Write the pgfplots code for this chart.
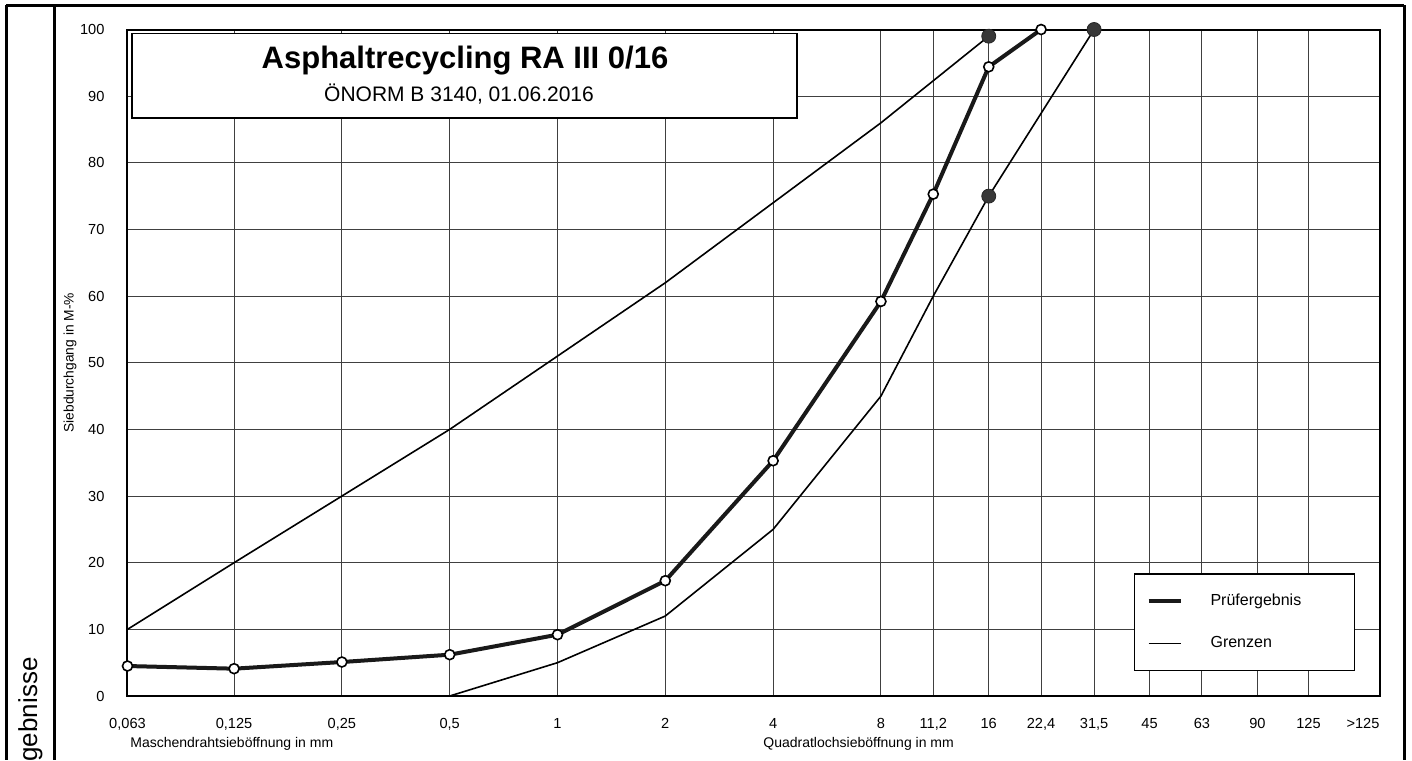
\documentclass[border=0pt]{standalone}
\usepackage{fontspec}
\setmainfont{Liberation Sans}
\usepackage{pgfplots}
\pgfplotsset{compat=1.18}
\begin{document}
\begin{tikzpicture}[x=1pt,y=1pt]
\useasboundingbox (0pt,0pt) rectangle (706pt,-380pt);
% outer frame
\draw[line width=1.5pt] (3pt,-2.5pt) -- (702pt,-2.5pt);
\draw[line width=1.5pt] (3pt,-2.5pt) -- (3pt,-380pt);
\draw[line width=1.5pt] (27.25pt,-2.5pt) -- (27.25pt,-380pt);
\draw[line width=1.5pt] (702pt,-2.5pt) -- (702pt,-380pt);
\node[rotate=90, anchor=base east, inner sep=0pt, font=\fontsize{13}{15}\selectfont] at (18.6pt,-328.5pt) {gebnisse};
\begin{axis}[
  at={(63.75pt,-348pt)}, anchor=south west, scale only axis,
  width=626.25pt, height=333.25pt,
  xmode=log, log basis x=2, xmin=0.063, xmax=198, ymin=0, ymax=100,
  xtick={0.063,0.125,0.25,0.5,1,2,4,8,11.2,16,22.4,31.5,45,63,90,125},
  xticklabels={{0,063},{0,125},{0,25},{0,5},1,2,4,8,{11,2},16,{22,4},{31,5},45,63,90,125},
  extra x ticks={177.5}, extra x tick labels={>125}, extra x tick style={grid=none},
  ytick={0,10,...,100},
  grid=major, major grid style={line width=0.55pt, black!75},
  axis line style={line width=1pt},
  major tick length=0pt,
  tick label style={font=\fontsize{7.3}{8}\selectfont},
  xticklabel style={yshift=-4.5pt, text height=1.6ex, text depth=0.3ex},
  yticklabel style={xshift=-8pt},
  /pgf/number format/assume math mode=true,
  ylabel={Siebdurchgang in M-\%},
  ylabel style={at={(axis description cs:-0.0459,0.5)}, anchor=center, font=\fontsize{6.9}{8}\selectfont},
  legend style={at={(rel axis cs:0.8034,0.1845)}, anchor=north west, draw=black, line width=0.8pt,
    fill=white, inner xsep=6pt, inner ysep=8pt, row sep=10pt, font=\fontsize{8}{9}\selectfont},
  legend cell align=left,
  /tikz/every odd column/.append style={column sep=12pt},
  legend image code/.code={\draw[#1] (0pt,0pt) -- (16pt,0pt);},
]
% lower limit
\addplot[black, line width=0.8pt, forget plot] coordinates {
  (0.5,0) (1,5) (2,12) (4,25) (8,45) (11.2,60) (16,75) (31.5,100)};
% upper limit
\addplot[black, line width=0.8pt, forget plot] coordinates {
  (0.063,10) (0.125,20) (0.25,30) (0.5,40) (1,51) (2,62) (4,74) (8,86) (16,99)};
% limit dots
\addplot[only marks, mark=*, mark size=3.5pt, mark options={fill=black!78, draw=black!85}, forget plot] coordinates {
  (16,99) (16,75) (31.5,100)};
% test result
\addplot[black!90, line width=2pt, mark=*, mark size=2.5pt,
  mark options={fill=white, draw=black, line width=0.8pt, solid}, forget plot] coordinates {
  (0.063,4.5) (0.125,4.1) (0.25,5.1) (0.5,6.2) (1,9.2) (2,17.3) (4,35.3) (8,59.2) (11.2,75.3) (16,94.4) (22.4,100)};
\addlegendimage{black!90, line width=2pt}
\addlegendentry{\makebox[64pt][l]{Prüfergebnis}}
\addlegendimage{black, line width=0.8pt}
\addlegendentry{Grenzen}
\end{axis}
% axis texts
\node[anchor=west, inner sep=0pt, font=\fontsize{7}{8}\selectfont] at (65pt,-372pt) {Maschendrahtsieböffnung in mm};
\node[anchor=west, inner sep=0pt, font=\fontsize{7}{8}\selectfont] at (381.5pt,-372pt) {Quadratlochsieböffnung in mm};
% title box
\draw[line width=0.8pt, fill=white] (66pt,-16.75pt) rectangle (398.5pt,-59pt);
\node[anchor=base, inner sep=0pt, font=\bfseries\fontsize{15.5}{18}\selectfont] at (232.5pt,-34pt) {Asphaltrecycling RA III 0/16};
\node[anchor=base, inner sep=0pt, font=\fontsize{10.5}{12}\selectfont] at (229.5pt,-50.5pt) {ÖNORM B 3140, 01.06.2016};
\end{tikzpicture}
\end{document}
